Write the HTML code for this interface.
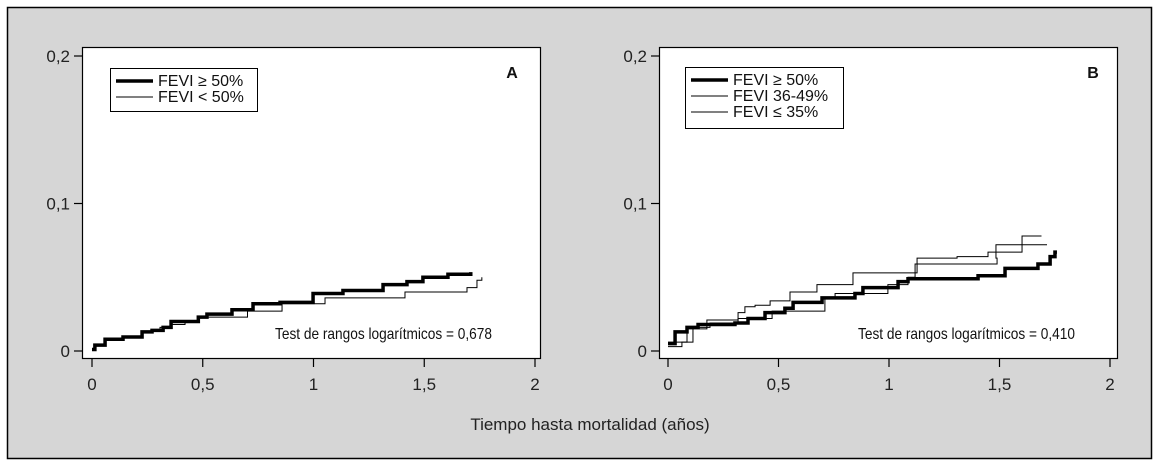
<!DOCTYPE html>
<html><head><meta charset="utf-8"><style>
html,body{margin:0;padding:0;background:#fff}
svg{display:block;font-family:"Liberation Sans",sans-serif}
</style></head><body>
<svg id="c" width="1159" height="467" viewBox="0 0 1159 467" xmlns="http://www.w3.org/2000/svg">
<rect x="0" y="0" width="1159" height="467" fill="#ffffff"/>
<rect x="7.5" y="7.5" width="1144" height="451" fill="#d6d6d6" stroke="#000" stroke-width="1.5"/>
<g id="gA"></g>
<g id="gB"></g>
<text x="590" y="430" font-size="17" text-anchor="middle" fill="#222">Tiempo hasta mortalidad (años)</text>
</svg>
<script>
const xTicks=[0,0.5,1,1.5,2];
const xTickLabels=["0","0,5","1","1,5","2"];
const yTicks=[0,0.1,0.2];
const yTickLabels=["0","0,1","0,2"];
const aThickT=[0,0.013,0.059,0.140,0.226,0.271,0.321,0.357,0.480,0.519,0.632,0.727,0.849,0.998,1.133,1.314,1.422,1.494,1.607,1.71];
const aThickV=[0.001,0.004,0.008,0.0095,0.013,0.014,0.016,0.02,0.023,0.025,0.028,0.032,0.033,0.039,0.041,0.045,0.047,0.05,0.052,0.0535];
const aThinT=[0,0.013,0.059,0.140,0.226,0.271,0.307,0.361,0.420,0.479,0.702,0.858,1.052,1.413,1.693,1.738,1.76];
const aThinV=[0.001,0.004,0.008,0.0095,0.013,0.014,0.016,0.018,0.02,0.023,0.027,0.032,0.036,0.04,0.043,0.048,0.05];
const bThickT=[0,0.032,0.086,0.136,0.303,0.362,0.439,0.529,0.566,0.697,0.846,0.882,1.041,1.086,1.403,1.525,1.674,1.729,1.751,1.76];
const bThickV=[0.005,0.013,0.016,0.018,0.019,0.022,0.026,0.029,0.033,0.036,0.039,0.043,0.047,0.049,0.051,0.056,0.059,0.064,0.067,0.067];
const bThin1T=[0,0.086,0.176,0.317,0.348,0.394,0.462,0.552,0.674,0.837,1.127,1.308,1.448,1.602,1.69];
const bThin1V=[0.006,0.015,0.021,0.026,0.03,0.031,0.034,0.04,0.045,0.053,0.063,0.064,0.067,0.078,0.078];
const bThin2T=[0,0.063,0.113,0.190,0.317,0.471,0.710,0.756,0.995,1.086,1.118,1.489,1.484,1.715];
const bThin2V=[0.003,0.006,0.016,0.019,0.022,0.027,0.036,0.039,0.045,0.05,0.059,0.063,0.072,0.072];
const NS="http://www.w3.org/2000/svg";
function mk(tag,at,parent){const e=document.createElementNS(NS,tag);for(const k in at)e.setAttribute(k,at[k]);parent.appendChild(e);return e;}
function panel(g,o){
  const sx=t=>o.x0+(o.x2-o.x0)*t/2;
  const sy=v=>o.y0-(o.y0-o.y2)*v/0.2;
  const box=mk('rect',{x:o.bl+0.5,y:47.5,width:o.br-o.bl,height:311,fill:'#fff',stroke:'#000','stroke-width':1.2},g);
  
  
  xTicks.forEach((t,i)=>{
    const l=mk('line',{x1:sx(t),x2:sx(t),y1:359,y2:367,stroke:'#000','stroke-width':1.2},g);
    
    
    const tx=mk('text',{x:sx(t),y:390,'font-size':17,'text-anchor':'middle',fill:'#222'},g);
    tx.textContent=xTickLabels[i];
    
    
  });
  yTicks.forEach((v,i)=>{
    const l=mk('line',{x1:o.bl-8,x2:o.bl,y1:sy(v),y2:sy(v),stroke:'#000','stroke-width':1.2},g);
    
    
    const tx=mk('text',{x:o.bl-12,y:sy(v)+6,'font-size':17,'text-anchor':'end',fill:'#222'},g);
    tx.textContent=yTickLabels[i];
    
    
  });
  o.series.forEach(s=>{
    let d='';
    s.t.forEach((t,i)=>{
      const x=sx(t),y=sy(s.v[i]);
      if(i===0)d='M'+x+','+y;else d+=' H'+x+' V'+y;
    });
    const p=mk('path',{d:d,fill:'none',stroke:'#000','stroke-width':s.w},g);
    
    
  });
  const lb=o.leg;
  const lr=mk('rect',{x:lb.x+0.5,y:lb.y+0.5,width:lb.w,height:lb.h,fill:'#fff',stroke:'#000','stroke-width':1},g);
  
  
  lb.items.forEach((it,i)=>{
    const y=lb.y+13+i*16;
    const l=mk('line',{x1:lb.x+6,x2:lb.x+43,y1:y,y2:y,stroke:'#000','stroke-width':it.w},g);
    
    
    const tx=mk('text',{x:lb.x+48,y:y+5,'font-size':16,fill:'#111'},g);
    tx.textContent=it.label;
    
    
  });
  const lt=mk('text',{x:o.letterX,y:78,'font-size':16,'font-weight':'bold','text-anchor':'middle',fill:'#111'},g);
  lt.textContent=o.letter;
  
  
  const tt=mk('text',{x:o.testX,y:339,'font-size':16,'text-anchor':'end',textLength:217,lengthAdjust:'spacingAndGlyphs',fill:'#111'},g);
  tt.textContent=o.test;
  
  
}
panel(document.getElementById('gA'),{x0:92,x2:535,y0:351,y2:56,bl:82,br:540,
  series:[{t:aThinT,v:aThinV,w:1,name:'series-fevi-lt-50'},{t:aThickT,v:aThickV,w:3.5,name:'series-fevi-ge-50'}],
  leg:{x:110,y:68,w:147,h:43,items:[{w:3.5,label:'FEVI ≥ 50%'},{w:1,label:'FEVI < 50%'}]},
  letter:'A',letterX:512,test:'Test de rangos logarítmicos = 0,678',testX:492});
panel(document.getElementById('gB'),{x0:668,x2:1110,y0:351,y2:56,bl:659,br:1117,
  series:[{t:bThin1T,v:bThin1V,w:1,name:'series-fevi-le-35'},{t:bThin2T,v:bThin2V,w:1,name:'series-fevi-36-49'},{t:bThickT,v:bThickV,w:3.5,name:'series-fevi-ge-50'}],
  leg:{x:685,y:67,w:158,h:61,items:[{w:3.5,label:'FEVI ≥ 50%'},{w:1,label:'FEVI 36-49%'},{w:1,label:'FEVI ≤ 35%'}]},
  letter:'B',letterX:1093,test:'Test de rangos logarítmicos = 0,410',testX:1075});
</script>
</body></html>
